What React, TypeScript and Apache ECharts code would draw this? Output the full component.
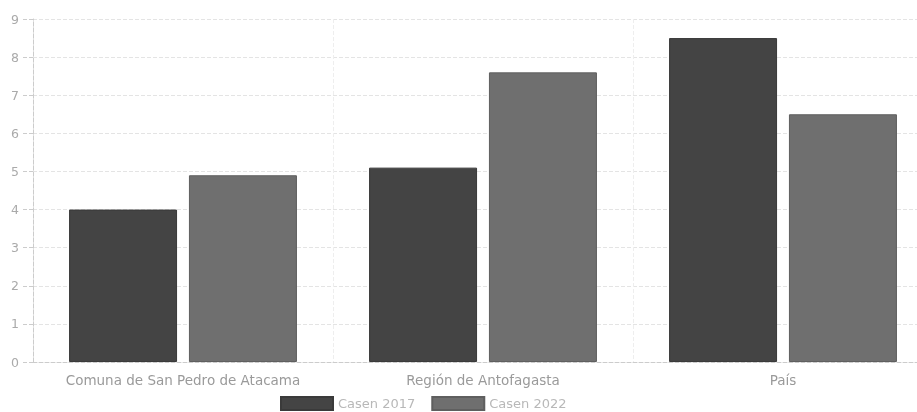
import React, { useEffect, useRef } from "react";
import * as echarts from "echarts";

const categories = ["Comuna de San Pedro de Atacama", "Región de Antofagasta", "País"];
const casen2017 = [4.0, 5.1, 8.5];
const casen2022 = [4.9, 7.6, 6.5];
const seriesNames = ["Casen 2017", "Casen 2022"];

export default function App() {
  const ref = useRef<HTMLDivElement>(null);
  useEffect(() => {
    document.documentElement.style.overflow = "hidden";
    document.body.style.overflow = "hidden";
    const chart = echarts.init(ref.current!, null, { renderer: "svg" });
    chart.setOption({
      animation: false,
      textStyle: { fontFamily: "DejaVu Sans, sans-serif" },
      grid: { left: 33, right: 0, top: 19, bottom: 50 },
      legend: {
        top: 396,
        left: 280,
        padding: 0,
        itemWidth: 52,
        itemHeight: 13,
        itemGap: 16,
        icon: "rect",
        textStyle: { color: "#b8b8b8", fontSize: 13, lineHeight: 14 },
        data: seriesNames,
      },
      xAxis: {
        type: "category",
        data: categories,
        axisLine: { lineStyle: { color: "#cccccc", type: "dashed" } },
        axisTick: { show: false },
        axisLabel: { color: "#9a9a9a", fontSize: 13.5, margin: 11, interval: 0 },
        splitLine: { show: true, interval: 0, lineStyle: { color: "#eeeeee", type: "dashed" } },
      },
      yAxis: {
        type: "value",
        min: 0,
        max: 9,
        interval: 1,
        axisLine: { show: true, lineStyle: { color: "#cccccc", type: "dashed" } },
        axisTick: { show: true, length: 11, lineStyle: { color: "#cccccc", type: "dashed" } },
        axisLabel: { color: "#aaaaaa", fontSize: 12.5, margin: 14 },
        splitLine: { lineStyle: { color: "#e4e4e4", type: "dashed" } },
      },
      series: [
        {
          name: seriesNames[0],
          type: "bar",
          data: casen2017,
          barWidth: 108,
          barGap: "11%",
          itemStyle: { color: "#444444", borderColor: "#3a3a3a", borderWidth: 1 },
        },
        {
          name: seriesNames[1],
          type: "bar",
          data: casen2022,
          barWidth: 108,
          barGap: "11%",
          itemStyle: { color: "#6f6f6f", borderColor: "#5f5f5f", borderWidth: 1 },
        },
      ],
    });
    return () => chart.dispose();
  }, []);
  return (
    <div style={{ position: "fixed", top: 0, left: 0, width: 917, height: 412, overflow: "hidden" }}>
      <div ref={ref} style={{ width: 933, height: 412 }} />
    </div>
  );
}
